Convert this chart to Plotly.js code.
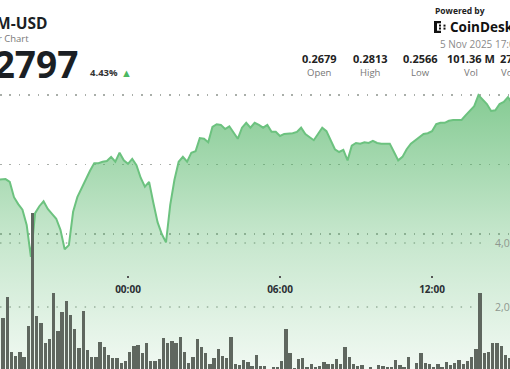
<!DOCTYPE html>
<html>
<head>
<meta charset="utf-8">
<script src="https://cdn.plot.ly/plotly-3.0.1.min.js"></script>
<style>
html,body{margin:0;padding:0;background:#fff;overflow:hidden;}
#chart{width:510px;height:369px;}
</style>
</head>
<body>
<div id="chart"></div>
<script>
// ---- data (10-minute intervals starting 2025-11-04 18:50) ----
const startTime = '2025-11-04T18:50:00';
const intervalMinutes = 10;

const price = [
  0.2678,0.2678,0.2679,0.2675,0.2653,0.2643,0.2635,0.2613,0.2567,0.2630,
  0.2640,0.2647,0.2636,0.2629,0.2622,0.2606,0.2578,0.2584,0.2632,0.2653,
  0.2666,0.2678,0.2691,0.2702,0.2702,0.2704,0.2705,0.2711,0.2704,0.2717,
  0.2706,0.2701,0.2708,0.2699,0.2681,0.2668,0.2675,0.2645,0.2617,0.2600,
  0.2588,0.2642,0.2678,0.2704,0.2711,0.2704,0.2717,0.2719,0.2738,0.2737,
  0.2732,0.2754,0.2758,0.2757,0.2751,0.2755,0.2745,0.2737,0.2753,0.2760,
  0.2753,0.2760,0.2757,0.2753,0.2757,0.2747,0.2747,0.2741,0.2744,0.2744,
  0.2745,0.2747,0.2753,0.2744,0.2740,0.2735,0.2744,0.2753,0.2748,0.2735,
  0.2722,0.2718,0.2721,0.2706,0.2727,0.2731,0.2730,0.2732,0.2731,0.2734,
  0.2731,0.2730,0.2730,0.2730,0.2718,0.2706,0.2711,0.2722,0.2730,0.2735,
  0.2740,0.2744,0.2745,0.2748,0.2758,0.2760,0.2760,0.2763,0.2764,0.2764,
  0.2764,0.2771,0.2777,0.2784,0.2800,0.2794,0.2787,0.2777,0.2778,0.2787,
  0.2790,0.2797,0.2788
];

const volume = [
  1530,1656,2312,594,469,594,438,1406,4938,1719,
  1500,875,1000,2438,1250,1844,2188,1750,1312,719,
  1875,656,438,438,906,750,500,406,406,250,
  312,594,781,812,572,865,323,323,365,1021,
  865,937,865,1052,583,260,427,990,760,552,
  219,396,698,469,396,1073,208,188,344,292,
  167,500,167,167,50,135,135,323,1312,552,
  104,365,417,135,219,115,156,292,219,219,
  365,219,760,427,219,156,188,30,115,30,
  188,156,115,115,344,188,115,427,50,240,
  552,260,208,135,219,135,292,188,240,344,
  219,323,448,677,2448,572,604,865,865,781,
  500,396,400
];

const xTickVals = ['2025-11-05 00:00','2025-11-05 06:00','2025-11-05 12:00'];
const priceGrid = [0.26, 0.27, 0.28];
const volTickVals = [2000, 4000];
const volTickText = ['2,000', '4,000'];

const header = {
  symbol: 'XLM-USD', subtitle: '24 Hour Chart', last: '0.2797', change: '4.43%',
  date: '5 Nov 2025 17:09'
};
const statValues = ['0.2679', '0.2813', '0.2566', '101.36 M', '27.63 M'];
const statLabels = ['Open', 'High', 'Low', 'Vol', 'Vol (USD)'];

// ---- build time axis ----
function pad(n){return (n<10?'0':'')+n;}
const t0 = Date.parse(startTime + 'Z');
const times = price.map((_, i) => {
  const d = new Date(t0 + i * intervalMinutes * 60000);
  return d.getUTCFullYear()+'-'+pad(d.getUTCMonth()+1)+'-'+pad(d.getUTCDate())+' '+pad(d.getUTCHours())+':'+pad(d.getUTCMinutes());
});

const W = 510, H = 369;
const px = x => x / W;
const py = y => 1 - y / H;
const FONT = 'Open Sans, Noto Sans, sans-serif';

const priceTrace = {
  x: times, y: price, type: 'scatter', mode: 'lines',
  line: {color: '#6cc27f', width: 2},
  fill: 'tozeroy',
  fillgradient: {
    type: 'vertical', start: 0.2406, stop: 0.2805,
    colorscale: [[0, 'rgba(80,180,100,0.08)'], [0.5, 'rgba(80,180,100,0.34)'], [1, 'rgba(80,180,100,0.7)']]
  },
  hoverinfo: 'skip'
};

const volTrace = {
  x: times, y: volume, type: 'bar', yaxis: 'y2',
  marker: {color: '#5f675f', line: {width: 0}},
  width: intervalMinutes * 60000 * 0.78, offset: 0,
  hoverinfo: 'skip'
};

function ann(text, x, y, o) {
  o = o || {};
  return Object.assign({
    text: text, xref: 'paper', yref: 'paper', x: px(x), y: py(y),
    xanchor: 'left', yanchor: 'middle', showarrow: false,
    font: {family: FONT, size: 11, color: '#222'}
  }, o);
}

const statCenters = [319, 370, 420, 471, 521];
const annotations = [
  ann(header.symbol, 48.5, 23, {xanchor: 'right', font: {family: FONT, size: 15.5, color: '#1b1f24', weight: 'bold'}}),
  ann(header.subtitle, 30.5, 38.5, {xanchor: 'right', font: {family: FONT, size: 9.5, color: '#777'}}),
  ann(header.last, 80, 63, {xanchor: 'right', font: {family: FONT, size: 37, color: '#1b1f24', weight: 'bold'}}),
  ann(header.change, 88, 72.5, {font: {family: FONT, size: 9.5, color: '#333', weight: 'bold'}}),
  ann('▲', 119, 72.5, {font: {family: FONT, size: 11, color: '#4cb862'}}),
  ann('Powered by', 433, 10, {font: {family: FONT, size: 8.5, color: '#222', weight: 'bold'}}),
  ann('CoinDesk', 448, 27, {font: {family: FONT, size: 13.5, color: '#111', weight: 'bold'}}),
  ann(header.date, 438, 44, {font: {family: FONT, size: 10, color: '#8a8a8a'}})
];
statValues.forEach((v, i) => {
  annotations.push(ann(v, statCenters[i], 58.5, {xanchor: 'center', font: {family: FONT, size: 11, color: '#222', weight: 'bold'}}));
  annotations.push(ann(statLabels[i], statCenters[i], 72.5, {xanchor: 'center', font: {family: FONT, size: 9.5, color: '#777'}}));
});

const dots = '1.5px,7.9px';
const shapes = [];
// volume grid lines (stop short of labels)
volTickVals.forEach(v => shapes.push({
  type: 'line', xref: 'paper', yref: 'y2', x0: 0, x1: px(487), y0: v, y1: v,
  line: {color: '#a9b0a9', width: 1.5, dash: dots}, layer: 'below'
}));
// CoinDesk logo glyph
const logoRects = [[434,21,437,33],[434,21,441,23.3],[434,30.7,441,33],[439,24.6,441,26.6],[439,27.6,441,29.6],[443.5,24.6,445.5,26.6],[443.5,27.6,445.5,29.6]];
logoRects.forEach(r => shapes.push({
  type: 'rect', xref: 'paper', yref: 'paper', x0: px(r[0]), x1: px(r[2]), y0: py(r[3]), y1: py(r[1]),
  fillcolor: '#111', line: {width: 0}
}));

const layout = {
  width: W, height: H,
  margin: {l: 0, r: 0, t: 0, b: 0, pad: 0},
  paper_bgcolor: '#ffffff', plot_bgcolor: '#ffffff',
  showlegend: false, bargap: 0,
  font: {family: FONT},
  xaxis: {
    type: 'date', range: ['2025-11-04 18:56:50', '2025-11-05 15:04:44'],
    tickvals: xTickVals, tickformat: '%H:%M',
    anchor: 'free', position: py(274.5),
    ticks: 'outside', ticklen: 2, tickwidth: 1.5, tickcolor: '#555',
    ticklabelstandoff: 3,
    showline: false, showgrid: false, zeroline: false,
    tickfont: {family: FONT, size: 10, color: '#2a2f33', weight: 'bold'},
    fixedrange: true
  },
  yaxis: {
    range: [0.24058, 0.29367], tickvals: priceGrid, showticklabels: false,
    showgrid: true, gridcolor: '#a9aea9', gridwidth: 1.5, griddash: dots,
    zeroline: false, showline: false, ticks: '', fixedrange: true
  },
  yaxis2: {
    overlaying: 'y', side: 'right', anchor: 'free', position: px(494),
    range: [62.5, 11594], tickvals: volTickVals, ticktext: volTickText,
    showgrid: false, zeroline: false, showline: false, ticks: '',
    tickfont: {family: FONT, size: 10.5, color: '#8f978f'}, fixedrange: true
  },
  annotations: annotations,
  shapes: shapes
};

Plotly.newPlot('chart', [priceTrace, volTrace], layout, {displayModeBar: false, staticPlot: true});
</script>
</body>
</html>
